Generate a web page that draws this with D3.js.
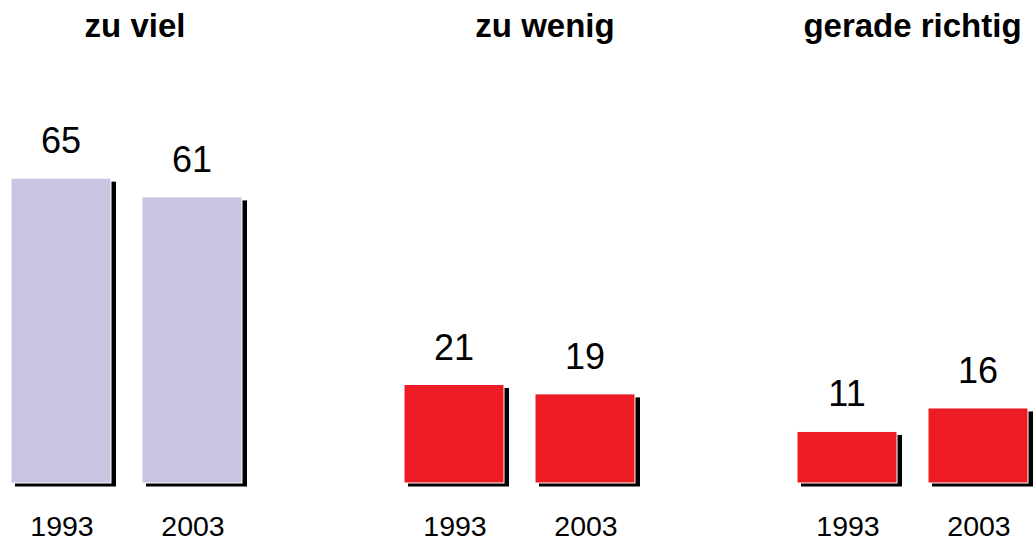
<!DOCTYPE html>
<html>
<head>
<meta charset="utf-8">
<script src="https://cdn.jsdelivr.net/npm/d3@7"></script>
<style>
  html, body { margin: 0; padding: 0; background: #fff; }
  svg { display: block; }
  text { font-family: "Liberation Sans", Arial, Helvetica, sans-serif; fill: #000; }
</style>
</head>
<body>
<svg id="chart" width="1033" height="541"></svg>
<script>
// ---- data ----
const categories = ["zu viel", "zu wenig", "gerade richtig"];
const years = ["1993", "2003"];
const values1993 = [65, 21, 11];
const values2003 = [61, 19, 16];

// ---- layout (not data) ----
const W = 1033, H = 541;
const baseY = 483;
const pxPerUnit = 4.69;
const titleOffsets = [8.5, 25.5, 0]; // offset of title centre from group centre
const barColors = ["#c8c5e2", "#ed1c24", "#ed1c24"];

const svg = d3.select("#chart");

const x0 = d3.scaleBand()
  .domain(categories)
  .range([11, 1028])
  .paddingInner(162 / 393)
  .paddingOuter(0);

const x1 = d3.scaleBand()
  .domain(years)
  .range([0, x0.bandwidth()])
  .paddingInner(31 / 131)
  .paddingOuter(0);

const y = d3.scaleLinear()
  .domain([0, 100])
  .range([baseY, baseY - 100 * pxPerUnit]);

const rows = categories.map((c, i) => ({
  cat: c, idx: i,
  vals: [
    { year: years[0], v: values1993[i] },
    { year: years[1], v: values2003[i] }
  ]
}));

const g = svg.selectAll("g.group")
  .data(rows)
  .join("g")
  .attr("class", "group")
  .attr("transform", d => `translate(${x0(d.cat)},0)`);

// titles
g.append("text")
  .attr("x", d => x0.bandwidth() / 2 + titleOffsets[d.idx])
  .attr("y", 37)
  .attr("text-anchor", "middle")
  .attr("font-size", 33)
  .attr("font-weight", "bold")
  .text(d => d.cat);

const bars = g.selectAll("g.bar")
  .data(d => d.vals.map(v => ({ ...v, idx: d.idx })))
  .join("g")
  .attr("class", "bar");

// shadow
bars.append("rect")
  .attr("x", d => x1(d.year) + 4)
  .attr("y", d => y(d.v) + 3.5)
  .attr("width", x1.bandwidth() + 1)
  .attr("height", d => baseY - y(d.v))
  .attr("fill", "#000");

// bar
bars.append("rect")
  .attr("x", d => x1(d.year))
  .attr("y", d => y(d.v))
  .attr("width", x1.bandwidth())
  .attr("height", d => baseY - y(d.v))
  .attr("fill", d => barColors[d.idx])
  .attr("stroke", "#fff")
  .attr("stroke-width", 1);

// value labels
bars.append("text")
  .attr("x", d => x1(d.year) + x1.bandwidth() / 2)
  .attr("y", d => y(d.v) - 25)
  .attr("text-anchor", "middle")
  .attr("font-size", 36)
  .text(d => d.v);

// year labels
bars.append("text")
  .attr("x", d => x1(d.year) + x1.bandwidth() / 2 + 1)
  .attr("y", 536)
  .attr("text-anchor", "middle")
  .attr("font-size", 28.5)
  .text(d => d.year);
</script>
</body>
</html>
